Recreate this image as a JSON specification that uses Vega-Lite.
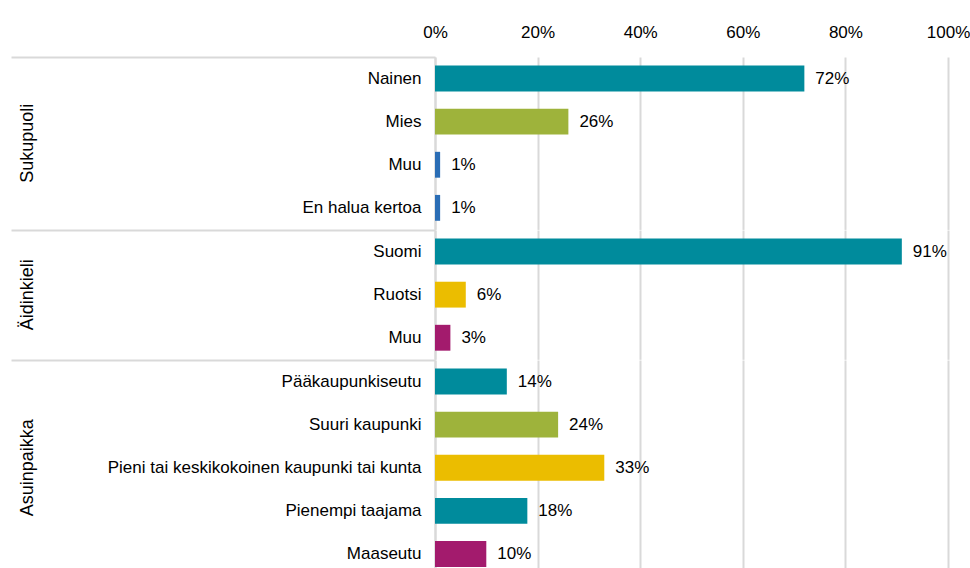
{
  "$schema": "https://vega.github.io/schema/vega-lite/v6.json",
  "padding": {"left": 10, "top": 23, "right": 5, "bottom": 0},
  "background": "white",
  "bounds": "flush",
  "config": {"view": {"stroke": null}},
  "data": {"values": [
    {"group": "Sukupuoli", "key": "Sukupuoli|Nainen", "value": 0.72},
    {"group": "Sukupuoli", "key": "Sukupuoli|Mies", "value": 0.26},
    {"group": "Sukupuoli", "key": "Sukupuoli|Muu", "value": 0.01},
    {"group": "Sukupuoli", "key": "Sukupuoli|En halua kertoa", "value": 0.01},
    {"group": "Äidinkieli", "key": "Äidinkieli|Suomi", "value": 0.91},
    {"group": "Äidinkieli", "key": "Äidinkieli|Ruotsi", "value": 0.06},
    {"group": "Äidinkieli", "key": "Äidinkieli|Muu", "value": 0.03},
    {"group": "Asuinpaikka", "key": "Asuinpaikka|Pääkaupunkiseutu", "value": 0.14},
    {"group": "Asuinpaikka", "key": "Asuinpaikka|Suuri kaupunki", "value": 0.24},
    {"group": "Asuinpaikka", "key": "Asuinpaikka|Pieni tai keskikokoinen kaupunki tai kunta", "value": 0.33},
    {"group": "Asuinpaikka", "key": "Asuinpaikka|Pienempi taajama", "value": 0.18},
    {"group": "Asuinpaikka", "key": "Asuinpaikka|Maaseutu", "value": 0.10}
  ]},
  "facet": {
    "row": {
      "field": "group", "type": "nominal",
      "sort": ["Sukupuoli", "Äidinkieli", "Asuinpaikka"],
      "title": null,
      "header": {"labelAngle": -90, "labelOrient": "left", "labelFont": "Liberation Sans", "labelFontSize": 18, "labelColor": "#000000", "labelPadding": 389}
    }
  },
  "spacing": {"row": 0},
  "resolve": {"scale": {"y": "independent"}},
  "spec": {
    "width": 513,
    "height": {"step": 43.1},
    "encoding": {
      "y": {
        "field": "key", "type": "nominal", "sort": null,
        "scale": {"paddingInner": 0, "paddingOuter": 0},
        "axis": {
          "title": null,
          "bandPosition": 0,
          "labelExpr": "split(datum.value, '|')[1]",
          "labelOffset": 0,
          "labelLimit": 0,
          "labelFont": "Liberation Sans",
          "labelFontSize": 17,
          "labelColor": "#000000",
          "labelPadding": -410,
          "domainColor": "#d9d9d9",
          "domainWidth": 2,
          "tickColor": "#d9d9d9",
          "tickWidth": 2,
          "tickSize": 424,
          "tickOpacity": {"condition": {"test": "datum.value == 'Sukupuoli|Nainen' || datum.value == 'Äidinkieli|Suomi' || datum.value == 'Asuinpaikka|Pääkaupunkiseutu'", "value": 1}, "value": 0},
          "grid": false
        }
      },
      "x": {
        "field": "value", "type": "quantitative",
        "scale": {"domain": [0, 1]},
        "axis": {
          "orient": "top", "format": ".0%", "values": [0, 0.2, 0.4, 0.6, 0.8, 1],
          "title": null, "domain": false, "ticks": false,
          "labelFont": "Liberation Sans",
          "labelFontSize": 17, "labelColor": "#000000", "labelPadding": 16, "labelFlush": false,
          "gridColor": "#d9d9d9", "gridWidth": 2
        }
      }
    },
    "layer": [
      {
        "mark": {"type": "bar", "height": {"band": 0.6}},
        "encoding": {
          "color": {
            "field": "key", "type": "nominal", "legend": null,
            "scale": {
              "domain": ["Sukupuoli|Nainen", "Sukupuoli|Mies", "Sukupuoli|Muu", "Sukupuoli|En halua kertoa", "Äidinkieli|Suomi", "Äidinkieli|Ruotsi", "Äidinkieli|Muu", "Asuinpaikka|Pääkaupunkiseutu", "Asuinpaikka|Suuri kaupunki", "Asuinpaikka|Pieni tai keskikokoinen kaupunki tai kunta", "Asuinpaikka|Pienempi taajama", "Asuinpaikka|Maaseutu"],
              "range": ["#008b9c", "#9eb33b", "#2a6db5", "#2a6db5", "#008b9c", "#ebbd00", "#a31b6d", "#008b9c", "#9eb33b", "#ebbd00", "#008b9c", "#a31b6d"]
            }
          }
        }
      },
      {
        "mark": {"type": "text", "align": "left", "baseline": "middle", "dx": 11, "font": "Liberation Sans", "fontSize": 17, "color": "#000000"},
        "encoding": {"text": {"field": "value", "type": "quantitative", "format": ".0%"}}
      }
    ]
  }
}
